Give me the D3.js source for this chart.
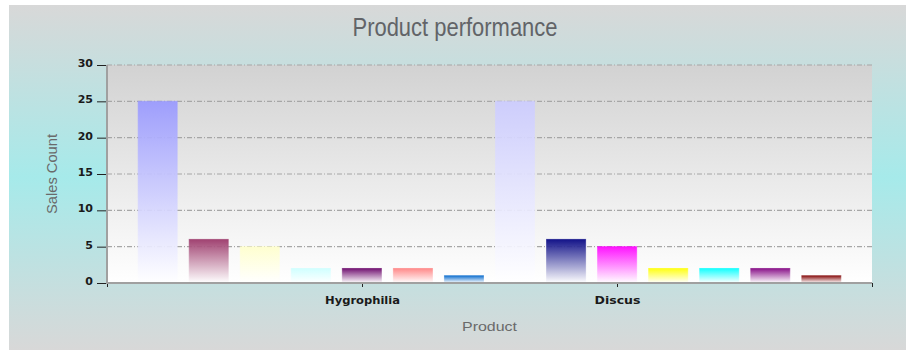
<!DOCTYPE html>
<html>
<head>
<meta charset="utf-8">
<script src="https://cdn.jsdelivr.net/npm/d3@7"></script>
<style>
  body { margin: 0; background: #fff; }
  svg { display: block; }
</style>
</head>
<body>
<script>
// chart data
var groups = ["Hygrophilia", "Discus"];
var hygrophiliaValues = [25, 6, 5, 2, 2, 2, 1];
var discusValues = [25, 6, 5, 2, 2, 2, 1];
var seriesColors = ["#9999FF", "#993366", "#FFFFCC", "#CCFFFF", "#660066", "#FF8080", "#0066CC",
                    "#CCCCFF", "#000080", "#FF00FF", "#FFFF00", "#00FFFF", "#800080", "#800000"];
var yTicks = [0, 5, 10, 15, 20, 25, 30];
var xTickValues = [0, 1, 2, 3];
var xTickLabels = ["", "Hygrophilia", "Discus", ""];

var width = 910, height = 352;
var plot = { left: 107, right: 872, top: 65, bottom: 283 };

// one entry per bar, group by group
var bars = [];
[hygrophiliaValues, discusValues].forEach(function(vals, g) {
  vals.forEach(function(v, i) {
    bars.push({ key: g + "-" + i, group: groups[g], value: v });
  });
});
bars.forEach(function(d, i) { d.color = seriesColors[i]; });

var svg = d3.select("body").append("svg")
    .attr("width", width)
    .attr("height", height);

var defs = svg.append("defs");

var bg = defs.append("linearGradient").attr("id", "bgGrad")
    .attr("x1", 0).attr("y1", 0).attr("x2", 0).attr("y2", 1);
bg.append("stop").attr("offset", "0%").attr("stop-color", "#d8d8d8");
bg.append("stop").attr("offset", "50%").attr("stop-color", "#a6eaea");
bg.append("stop").attr("offset", "100%").attr("stop-color", "#d8d8d8");

var pg = defs.append("linearGradient").attr("id", "plotGrad")
    .attr("x1", 0).attr("y1", 0).attr("x2", 0).attr("y2", 1);
pg.append("stop").attr("offset", "0%").attr("stop-color", "#d2d2d2");
pg.append("stop").attr("offset", "100%").attr("stop-color", "#ffffff");

bars.forEach(function(d, i) {
  var gr = defs.append("linearGradient").attr("id", "barGrad" + i)
      .attr("x1", 0).attr("y1", 0).attr("x2", 0).attr("y2", 1);
  gr.append("stop").attr("offset", "0%").attr("stop-color", d.color);
  gr.append("stop").attr("offset", "100%").attr("stop-color", "#ffffff");
});

// outer panel
svg.append("rect")
    .attr("x", 9).attr("y", 5)
    .attr("width", 897).attr("height", 345)
    .attr("fill", "url(#bgGrad)");

// plot area
svg.append("rect")
    .attr("x", plot.left).attr("y", plot.top)
    .attr("width", plot.right - plot.left)
    .attr("height", plot.bottom - plot.top)
    .attr("fill", "url(#plotGrad)");

var yScale = d3.scaleLinear().domain([0, 30]).range([plot.bottom, plot.top]);
var xAxisScale = d3.scaleLinear().domain([0, 3]).range([plot.left, plot.right]);
var xBand = d3.scaleBand()
    .domain(bars.map(function(d) { return d.key; }))
    .range([plot.left, plot.right])
    .paddingInner(0.235)
    .paddingOuter(0.61);

// gridlines
svg.append("g").selectAll("line")
    .data(yTicks.slice(1))
    .enter().append("line")
    .attr("x1", plot.left).attr("x2", plot.right)
    .attr("y1", function(d) { return yScale(d); })
    .attr("y2", function(d) { return yScale(d); })
    .attr("stroke", "#a6a6a6")
    .attr("stroke-width", 1.2)
    .attr("stroke-dasharray", "5,2,1,2");

// bars
svg.append("g").selectAll("rect")
    .data(bars)
    .enter().append("rect")
    .attr("x", function(d) { return xBand(d.key); })
    .attr("width", xBand.bandwidth())
    .attr("y", function(d) { return yScale(d.value); })
    .attr("height", function(d) { return yScale(0) - yScale(d.value); })
    .attr("fill", function(d, i) { return "url(#barGrad" + i + ")"; })
    .attr("fill-opacity", 0.92)
    .attr("stroke", function(d, i) { return "url(#barGrad" + i + ")"; })
    .attr("stroke-opacity", 0.6)
    .attr("stroke-width", 1);

// y axis
var yAxis = svg.append("g")
    .attr("transform", "translate(" + plot.left + ",0)")
    .call(d3.axisLeft(yScale).tickValues(yTicks).tickSize(10).tickPadding(4));
yAxis.select(".domain").remove();
yAxis.selectAll(".tick line").attr("stroke", "#222");
yAxis.selectAll(".tick text")
    .attr("dy", "0.32em")
    .attr("y", -2)
    .attr("fill", "#1a1a1a")
    .style("font", "bold 11px 'DejaVu Sans'");
svg.append("line")
    .attr("x1", plot.left).attr("x2", plot.left)
    .attr("y1", plot.top).attr("y2", plot.bottom + 1)
    .attr("stroke", "#a0a0a0").attr("stroke-width", 2);

// x axis
var xAxis = svg.append("g")
    .attr("transform", "translate(0," + plot.bottom + ")")
    .call(d3.axisBottom(xAxisScale).tickValues(xTickValues)
      .tickFormat(function(d, i) { return xTickLabels[i]; })
      .tickSize(4).tickSizeOuter(0).tickPadding(9));
xAxis.select(".domain").remove();
xAxis.selectAll(".tick line").attr("stroke", "#222");
xAxis.selectAll(".tick text")
    .attr("fill", "#1a1a1a")
    .style("font", "bold 11px 'DejaVu Sans'")
    .attr("textLength", function(d, i) { return [0, 75, 46, 0][i] || null; })
    .attr("lengthAdjust", "spacingAndGlyphs");
svg.append("line")
    .attr("x1", plot.left - 1).attr("x2", plot.right)
    .attr("y1", plot.bottom).attr("y2", plot.bottom)
    .attr("stroke", "#a0a0a0").attr("stroke-width", 2);

// title
svg.append("text")
    .attr("x", 455).attr("y", 36)
    .attr("text-anchor", "middle")
    .attr("fill", "#626468")
    .attr("textLength", 205)
    .attr("lengthAdjust", "spacingAndGlyphs")
    .style("font", "25px 'Liberation Sans'")
    .text("Product performance");

// axis titles
svg.append("text")
    .attr("x", (plot.left + plot.right) / 2).attr("y", 331)
    .attr("text-anchor", "middle")
    .attr("fill", "#6a6a6a")
    .attr("textLength", 55)
    .attr("lengthAdjust", "spacingAndGlyphs")
    .style("font", "13px 'Liberation Sans'")
    .text("Product");

svg.append("text")
    .attr("transform", "translate(57," + (plot.top + plot.bottom) / 2 + ") rotate(-90)")
    .attr("text-anchor", "middle")
    .attr("fill", "#6a6a6a")
    .attr("textLength", 80)
    .attr("lengthAdjust", "spacingAndGlyphs")
    .style("font", "14px 'Liberation Sans'")
    .text("Sales Count");
</script>
</body>
</html>
